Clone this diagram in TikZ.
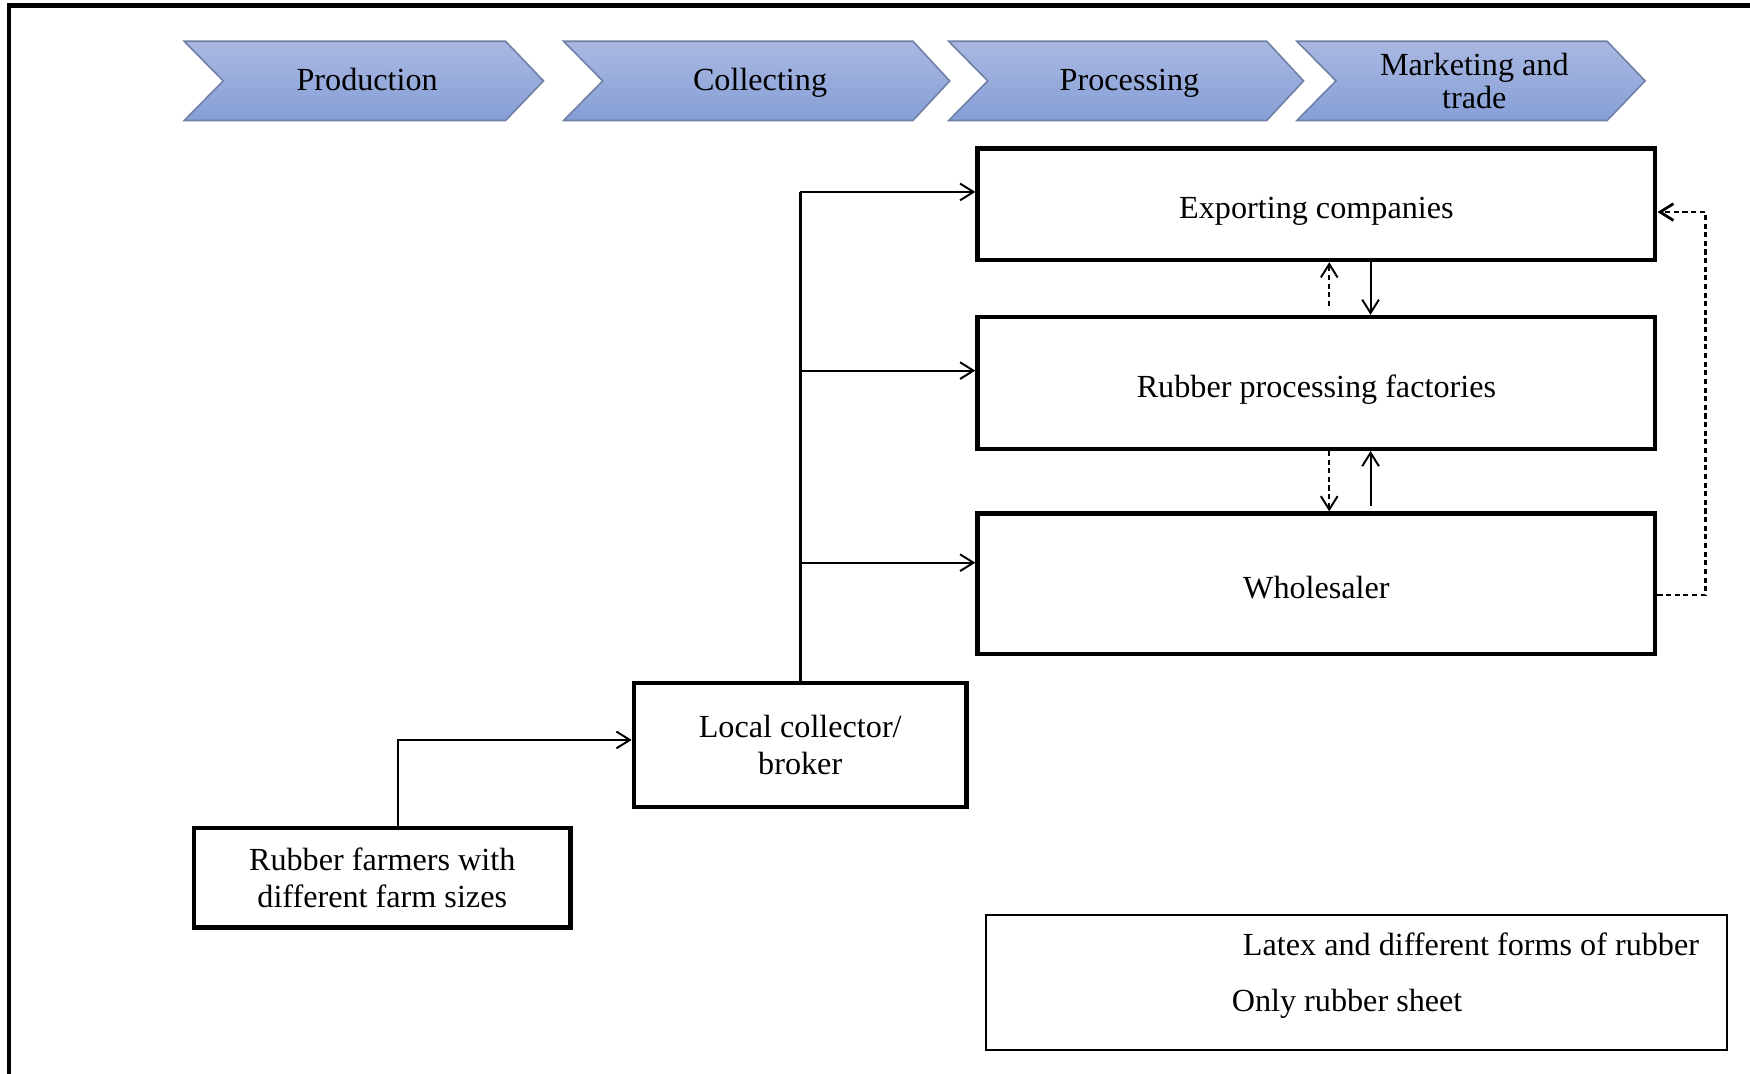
\documentclass[tikz,border=0pt]{standalone}
\usepackage{fontspec}
\setmainfont{Liberation Serif}
\usepackage{xcolor}
\usepackage{tikz}
\usetikzlibrary{shapes,arrows.meta}
\definecolor{chevtop}{HTML}{A9B8E2}
\definecolor{chevbot}{HTML}{869FD6}
\definecolor{chevline}{HTML}{6F7FA6}
\tikzstyle{block} = [rectangle, draw, line width=1.1pt, text centered, minimum width=6.07cm,
    text height=2.2ex, text depth=0.6ex]
\tikzstyle{smallblock} = [rectangle, draw, line width=1.1pt, align=center]
\tikzstyle{legend} = [rectangle, draw, line width=0.5pt]
\tikzstyle{chevron} = [draw=chevline, line width=0.4pt, top color=chevtop, bottom color=chevbot]
\tikzstyle{arrow} = [draw, -{Straight Barb[length=1.2mm,width=1.5mm]}, line width=0.5pt]
\tikzstyle{dasharrow} = [arrow, dash pattern=on 1.3pt off 0.9pt]
\tikzstyle{line} = [draw, line width=0.7pt]

\begin{document}
\begin{tikzpicture}[x=0.01cm, y=-0.01cm, node distance=2cm, font=\fontsize{8.2}{9.6}\selectfont]
			\clip (0,0) rectangle (1568,962);
			% outer frame, cut at the right and bottom
			\draw[line width=1.2pt] (8,5) rectangle (1620,1010);
			% Stages of the chain
			\foreach \xl/\xn/\xc/\xt/\ty/\nm/\txt in {165/200/453/487/75.5/production/Production, 505/540/818/851/75.5/collecting/Collecting, 850/885/1135/1168/75.5/processing/Processing, 1162/1197/1440/1474/72/marketing/{Marketing and\\trade}}{
				\path[chevron] (\xl,37) -- (\xc,37) -- (\xt,72.5) -- (\xc,108) -- (\xl,108) -- (\xn,72.5) -- cycle;
				\node[align=center, font=\fontsize{8.2}{8.6}\selectfont] (\nm) at ({(\xl+\xt)/2+3},\ty) {\strut\txt};
			}
			
			% Place nodes
			\node [block, minimum height=1cm] (export) at (1179.5,183) {Exporting companies};
			\node [block, minimum height=1.18cm, below of=export, node distance=1.6cm] (factory) {Rubber processing factories};
			\node [block, minimum height=1.26cm, below of=factory, node distance=1.8cm] (wholesaler) {Wholesaler};
			\node [smallblock, minimum width=2.98cm, minimum height=1.11cm] (collector) at (717,667.5) {Local collector/\\broker};
			\node [smallblock, minimum width=3.37cm, minimum height=0.89cm] (farmers) at (342.5,786.5) {Rubber farmers with\\different farm sizes};
			\node [legend, minimum width=6.63cm, minimum height=1.21cm] (legendbox) at (1215.5,880.5) {};
			\node [anchor=west, inner sep=0pt] (latex) at (1113,846) {Latex and different forms of rubber};
			\node [anchor=west, inner sep=0pt] (sheet) at (1103,899) {Only rubber sheet};
			
			\path [arrow] ([xshift=0.145cm]farmers.north) |- ([yshift=0.045cm]collector.west);
			\path [line] (collector.north) -- ([yshift=0.11cm]collector.north |- export.west);
			\path [arrow] ([yshift=0.11cm]collector.north |- export.west) -- ([yshift=0.11cm]export.west);
			\path [arrow] ([yshift=0.11cm]collector.north |- factory.west) -- ([yshift=0.11cm]factory.west);
			\path [arrow] ([yshift=0.19cm]collector.north |- wholesaler.west) -- ([yshift=0.19cm]wholesaler.west);
			
			\path [dasharrow] ([xshift=0.115cm,yshift=0.08cm]factory.north) -- ([xshift=0.115cm]export.south);
			\path [arrow] ([xshift=0.485cm]export.south) -- ([xshift=0.485cm]factory.north);
			\path [dasharrow] ([xshift=0.115cm]factory.south) -- ([xshift=0.115cm]wholesaler.north);
			\path [arrow] ([xshift=0.485cm,yshift=0.05cm]wholesaler.north) -- ([xshift=0.485cm]factory.south);
			\path [dasharrow, line width=0.7pt] ([yshift=-0.1cm]wholesaler.east) -- ++(43,0) |- ([yshift=-0.07cm]export.east);
	\end{tikzpicture}
\end{document}
